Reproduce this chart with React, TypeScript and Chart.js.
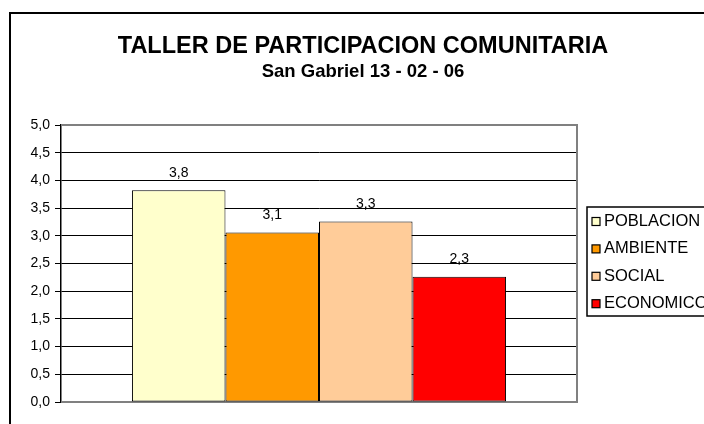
import React, { useEffect, useRef } from 'react';
import { Chart, registerables } from 'chart.js';

Chart.register(...registerables);

const categories = [''];
const seriesNames = ['POBLACION', 'AMBIENTE', 'SOCIAL', 'ECONOMICO'];
const seriesValues = [3.82, 3.06, 3.26, 2.26];
const seriesColors = ['#FFFFCC', '#FF9900', '#FFCC99', '#FF0000'];
const yMin = 0;
const yMax = 5;
const yStep = 0.5;
const titleText = 'TALLER DE PARTICIPACION COMUNITARIA';
const subtitleText = 'San Gabriel 13 - 02 - 06';

const FONT = "Arial, 'Liberation Sans', sans-serif";
const fmt = (v: number) => v.toFixed(1).replace('.', ',');

const framePlugin = {
  id: 'frame',
  beforeDraw(chart: any) {
    const ctx = chart.ctx;
    ctx.save();
    ctx.fillStyle = '#ffffff';
    ctx.fillRect(0, 0, chart.width, chart.height);
    ctx.strokeStyle = '#000000';
    ctx.lineWidth = 2;
    ctx.strokeRect(10, 13, chart.width + 50, chart.height + 50);
    ctx.restore();
  },
};

const plotBorderPlugin = {
  id: 'plotBorder',
  beforeDatasetsDraw(chart: any) {
    const { ctx, chartArea: a } = chart;
    ctx.save();
    ctx.strokeStyle = '#808080';
    ctx.lineWidth = 2;
    ctx.beginPath();
    ctx.moveTo(a.left, a.top);
    ctx.lineTo(a.right, a.top);
    ctx.lineTo(a.right, a.bottom);
    ctx.lineTo(a.left, a.bottom);
    ctx.stroke();
    ctx.restore();
  },
};

const valueLabelPlugin = {
  id: 'valueLabels',
  afterDatasetsDraw(chart: any) {
    const ctx = chart.ctx;
    ctx.save();
    ctx.fillStyle = '#000000';
    ctx.font = `14px ${FONT}`;
    ctx.textAlign = 'center';
    ctx.textBaseline = 'middle';
    chart.data.datasets.forEach((ds: any, i: number) => {
      const meta = chart.getDatasetMeta(i);
      meta.data.forEach((el: any, j: number) => {
        ctx.fillText(fmt(ds.data[j]), el.x, el.y - 17.5);
      });
    });
    ctx.restore();
  },
};

const legendPlugin = {
  id: 'sideLegend',
  afterDraw(chart: any) {
    const ctx = chart.ctx;
    const boxLeft = 587;
    const boxTop = 207;
    const boxBottom = 316;
    const rowStart = 221.5;
    const rowGap = 27.4;
    ctx.save();
    ctx.strokeStyle = '#000000';
    ctx.lineWidth = 1.5;
    ctx.strokeRect(boxLeft, boxTop, 200, boxBottom - boxTop);
    ctx.font = `16.5px ${FONT}`;
    ctx.textAlign = 'left';
    ctx.textBaseline = 'middle';
    chart.data.datasets.forEach((ds: any, i: number) => {
      const y = rowStart + i * rowGap;
      ctx.fillStyle = ds.backgroundColor;
      ctx.fillRect(592, y - 4, 8, 8);
      ctx.lineWidth = 1.2;
      ctx.strokeStyle = '#000000';
      ctx.strokeRect(592, y - 4, 8, 8);
      ctx.fillStyle = '#000000';
      ctx.fillText(ds.label, 604, y);
    });
    ctx.restore();
  },
};

export default function App() {
  const canvasRef = useRef<HTMLCanvasElement | null>(null);

  useEffect(() => {
    if (!canvasRef.current) return;
    const chart = new Chart(canvasRef.current, {
      type: 'bar',
      data: {
        labels: categories,
        datasets: seriesNames.map((name, i) => ({
          label: name,
          data: [seriesValues[i]],
          backgroundColor: seriesColors[i],
          borderColor: '#000000',
          borderWidth: 1,
          borderSkipped: false,
          categoryPercentage: 0.725,
          barPercentage: 1,
        })),
      },
      options: {
        animation: false,
        responsive: false,
        maintainAspectRatio: false,
        events: [],
        layout: { padding: { left: 0, right: 0, top: 0, bottom: 22 } },
        scales: {
          x: { display: false },
          y: {
            position: 'left',
            min: yMin,
            max: yMax,
            ticks: {
              stepSize: yStep,
              padding: 5,
              color: '#000000',
              font: { family: FONT, size: 14 },
              callback: (v: any) => fmt(Number(v)),
            },
            grid: {
              color: '#000000',
              lineWidth: 1,
              drawTicks: true,
              tickLength: 6,
              tickColor: '#000000',
            },
            border: { display: true, color: '#000000', width: 1.5 },
            afterFit: (s: any) => {
              s.width = 61;
            },
          },
          y2: {
            position: 'right',
            display: true,
            min: 0,
            max: 1,
            ticks: { display: false },
            grid: { display: false, drawTicks: false },
            border: { display: false },
            afterFit: (s: any) => {
              s.width = 149;
            },
          },
        },
        plugins: {
          legend: { display: false },
          tooltip: { enabled: false },
          title: {
            display: true,
            text: titleText,
            color: '#000000',
            font: { family: FONT, size: 23.5, weight: 'bold', lineHeight: 0.9 },
            padding: { top: 36.4, bottom: 0 },
          },
          subtitle: {
            display: true,
            text: subtitleText,
            color: '#000000',
            font: { family: FONT, size: 18.5, weight: 'bold', lineHeight: 0.9 },
            padding: { top: 6.5, bottom: 44.3 },
          },
        },
      },
      plugins: [framePlugin, plotBorderPlugin, valueLabelPlugin, legendPlugin],
    } as any);
    return () => chart.destroy();
  }, []);

  return (
    <div
      style={{
        position: 'fixed',
        left: 0,
        top: 0,
        width: 704,
        height: 424,
        overflow: 'hidden',
        background: '#ffffff',
      }}
    >
      <canvas
        ref={canvasRef}
        width={726}
        height={424}
        style={{ position: 'absolute', left: 0, top: 0, width: 726, height: 424 }}
      />
    </div>
  );
}
